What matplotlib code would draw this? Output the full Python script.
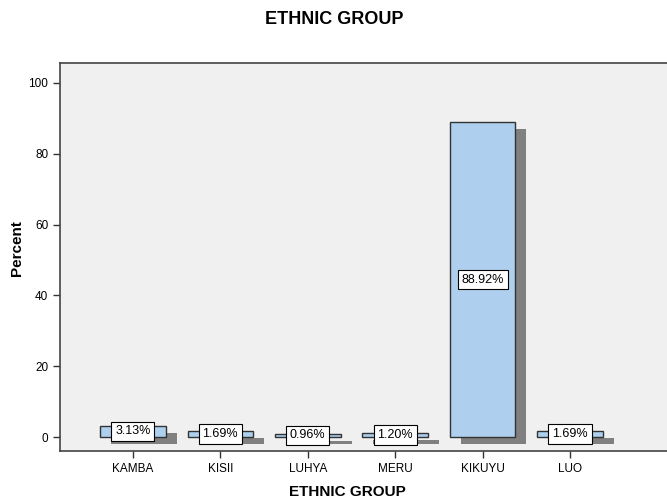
import matplotlib.pyplot as plt
import matplotlib.transforms as mtransforms

plt.rcParams['font.family'] = ['Liberation Sans', 'DejaVu Sans']

# percent of respondents per ethnic group
groups = ['KAMBA', 'KISII', 'LUHYA', 'MERU', 'KIKUYU', 'LUO']
percent = [3.13, 1.69, 0.96, 1.20, 88.92, 1.69]
labels = ['3.13%', '1.69%', '0.96%', '1.20%', '88.92%', '1.69%']

fig = plt.figure(figsize=(6.67, 5.04), dpi=100)
ax = fig.add_axes([60 / 667, 53 / 504, 607 / 667, 388 / 504])
ax.set_facecolor('#f0f0f0')

x = list(range(len(groups)))

# drop shadow: same bars shifted right/down in screen space
shadow = mtransforms.offset_copy(ax.transData, fig=fig, x=11, y=-7, units='dots')
ax.bar(x, percent, width=0.75, color='#808080', edgecolor='none',
       transform=shadow, zorder=2)
ax.bar(x, percent, width=0.75, color='#aed0ee', edgecolor='#333333',
       linewidth=1.0, zorder=3)

for xi, v, lab in zip(x, percent, labels):
    ax.text(xi, v / 2, lab, ha='center', va='center', fontsize=9, zorder=4,
            bbox=dict(boxstyle='square,pad=0.3', facecolor='white',
                      edgecolor='black', linewidth=0.8))

ax.set_xlim(-0.834, 6.109)
ax.set_ylim(-3.95, 105.6)
ax.set_xticks(x)
ax.set_xticklabels(groups, fontsize=8.5)
ax.set_yticks([0, 20, 40, 60, 80, 100])
ax.tick_params(axis='both', labelsize=8.5, length=5, width=1, color='#333333')
ax.tick_params(axis='x', pad=4)

ax.spines['right'].set_visible(False)
for side in ['left', 'bottom', 'top']:
    ax.spines[side].set_color('#444444')
    ax.spines[side].set_linewidth(1.2)

fig.text(17.5 / 667, 1 - 248 / 504, 'Percent', rotation=90, ha='center',
         va='center', fontsize=11, fontweight='bold')
fig.text(347 / 667, 1 - 492 / 504, 'ETHNIC GROUP', ha='center', va='center',
         fontsize=11, fontweight='bold')
fig.text(334 / 667, 1 - 19 / 504, 'ETHNIC GROUP', ha='center', va='center',
         fontsize=13, fontweight='bold')

fig.savefig('out.png', dpi=100)
